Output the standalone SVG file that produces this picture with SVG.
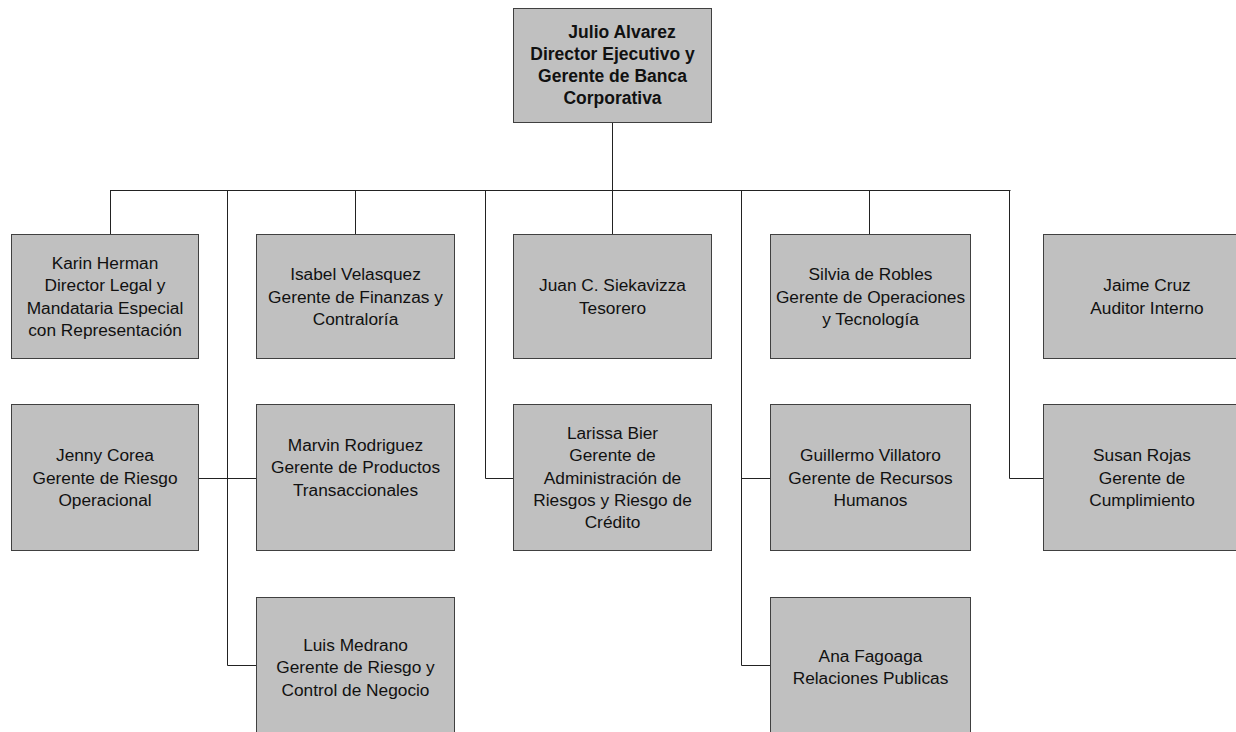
<svg xmlns="http://www.w3.org/2000/svg" width="1236" height="732" viewBox="0 0 1236 732">
<style>
.box{fill:#c0c0c0;stroke:#404040;stroke-width:1}
.t{font-family:"Liberation Sans",Arial,sans-serif;font-size:17.3px;fill:#111;text-anchor:middle}
.b{font-weight:bold;font-size:17.5px}
.c{fill:none;stroke:#222;stroke-width:1}
</style>
<rect width="1236" height="732" fill="#fff"/>
<g id="connectors">
<path class="c" d="M612.5 123V234M110.5 190.5H1010.5M110.5 190V234M355.5 190V234M869.5 190V234"/>
<path class="c" d="M227.5 190V665.5H256M198 478.5H256"/>
<path class="c" d="M485.5 190V478.5H513"/>
<path class="c" d="M741.5 190V665.5H770M741.5 478.5H770"/>
<path class="c" d="M1009.5 190V478.5H1043"/>
</g>
<g id="n-julio"><rect class="box" x="513.5" y="8.5" width="198" height="114"/>
<text class="t b"><tspan x="622" y="37.5">Julio Alvarez</tspan><tspan x="612.5" y="60">Director Ejecutivo y</tspan><tspan x="612.5" y="82.2">Gerente de Banca</tspan><tspan x="612.5" y="104.4">Corporativa</tspan></text></g>
<g id="n-karin"><rect class="box" x="11.5" y="234.5" width="187" height="124"/>
<text class="t"><tspan x="105" y="268.9">Karin Herman</tspan><tspan x="105" y="291.3">Director Legal y</tspan><tspan x="105" y="313.7">Mandataria Especial</tspan><tspan x="105" y="336.1">con Representación</tspan></text></g>
<g id="n-isabel"><rect class="box" x="256.5" y="234.5" width="198" height="124"/>
<text class="t"><tspan x="355.5" y="280.1">Isabel Velasquez</tspan><tspan x="355.5" y="302.5">Gerente de Finanzas y</tspan><tspan x="355.5" y="324.9">Contraloría</tspan></text></g>
<g id="n-juan"><rect class="box" x="513.5" y="234.5" width="198" height="124"/>
<text class="t"><tspan x="612.5" y="291.3">Juan C. Siekavizza</tspan><tspan x="612.5" y="313.7">Tesorero</tspan></text></g>
<g id="n-silvia"><rect class="box" x="770.5" y="234.5" width="200" height="124"/>
<text class="t"><tspan x="870.5" y="280.1">Silvia de Robles</tspan><tspan x="870.5" y="302.5">Gerente de Operaciones</tspan><tspan x="870.5" y="324.9">y Tecnología</tspan></text></g>
<g id="n-jaime"><rect class="box" x="1043.5" y="234.5" width="198" height="124"/>
<text class="t"><tspan x="1147" y="291.3">Jaime Cruz</tspan><tspan x="1147" y="313.7">Auditor Interno</tspan></text></g>
<g id="n-jenny"><rect class="box" x="11.5" y="404.5" width="187" height="146"/>
<text class="t"><tspan x="105" y="461.1">Jenny Corea</tspan><tspan x="105" y="483.5">Gerente de Riesgo</tspan><tspan x="105" y="505.9">Operacional</tspan></text></g>
<g id="n-marvin"><rect class="box" x="256.5" y="404.5" width="198" height="146"/>
<text class="t"><tspan x="355.5" y="450.9">Marvin Rodriguez</tspan><tspan x="355.5" y="473.3">Gerente de Productos</tspan><tspan x="355.5" y="495.7">Transaccionales</tspan></text></g>
<g id="n-larissa"><rect class="box" x="513.5" y="404.5" width="198" height="146"/>
<text class="t"><tspan x="612.5" y="438.7">Larissa Bier</tspan><tspan x="612.5" y="461.1">Gerente de</tspan><tspan x="612.5" y="483.5">Administración de</tspan><tspan x="612.5" y="505.9">Riesgos y Riesgo de</tspan><tspan x="612.5" y="528.3">Crédito</tspan></text></g>
<g id="n-guillermo"><rect class="box" x="770.5" y="404.5" width="200" height="146"/>
<text class="t"><tspan x="870.5" y="461.1">Guillermo Villatoro</tspan><tspan x="870.5" y="483.5">Gerente de Recursos</tspan><tspan x="870.5" y="505.9">Humanos</tspan></text></g>
<g id="n-susan"><rect class="box" x="1043.5" y="404.5" width="198" height="146"/>
<text class="t"><tspan x="1142" y="461.1">Susan Rojas</tspan><tspan x="1142" y="483.5">Gerente de</tspan><tspan x="1142" y="505.9">Cumplimiento</tspan></text></g>
<g id="n-luis"><rect class="box" x="256.5" y="597.5" width="198" height="146"/>
<text class="t"><tspan x="355.5" y="651">Luis Medrano</tspan><tspan x="355.5" y="673.4">Gerente de Riesgo y</tspan><tspan x="355.5" y="695.8">Control de Negocio</tspan></text></g>
<g id="n-ana"><rect class="box" x="770.5" y="597.5" width="200" height="146"/>
<text class="t"><tspan x="870.5" y="662">Ana Fagoaga</tspan><tspan x="870.5" y="684.4">Relaciones Publicas</tspan></text></g>
</svg>
